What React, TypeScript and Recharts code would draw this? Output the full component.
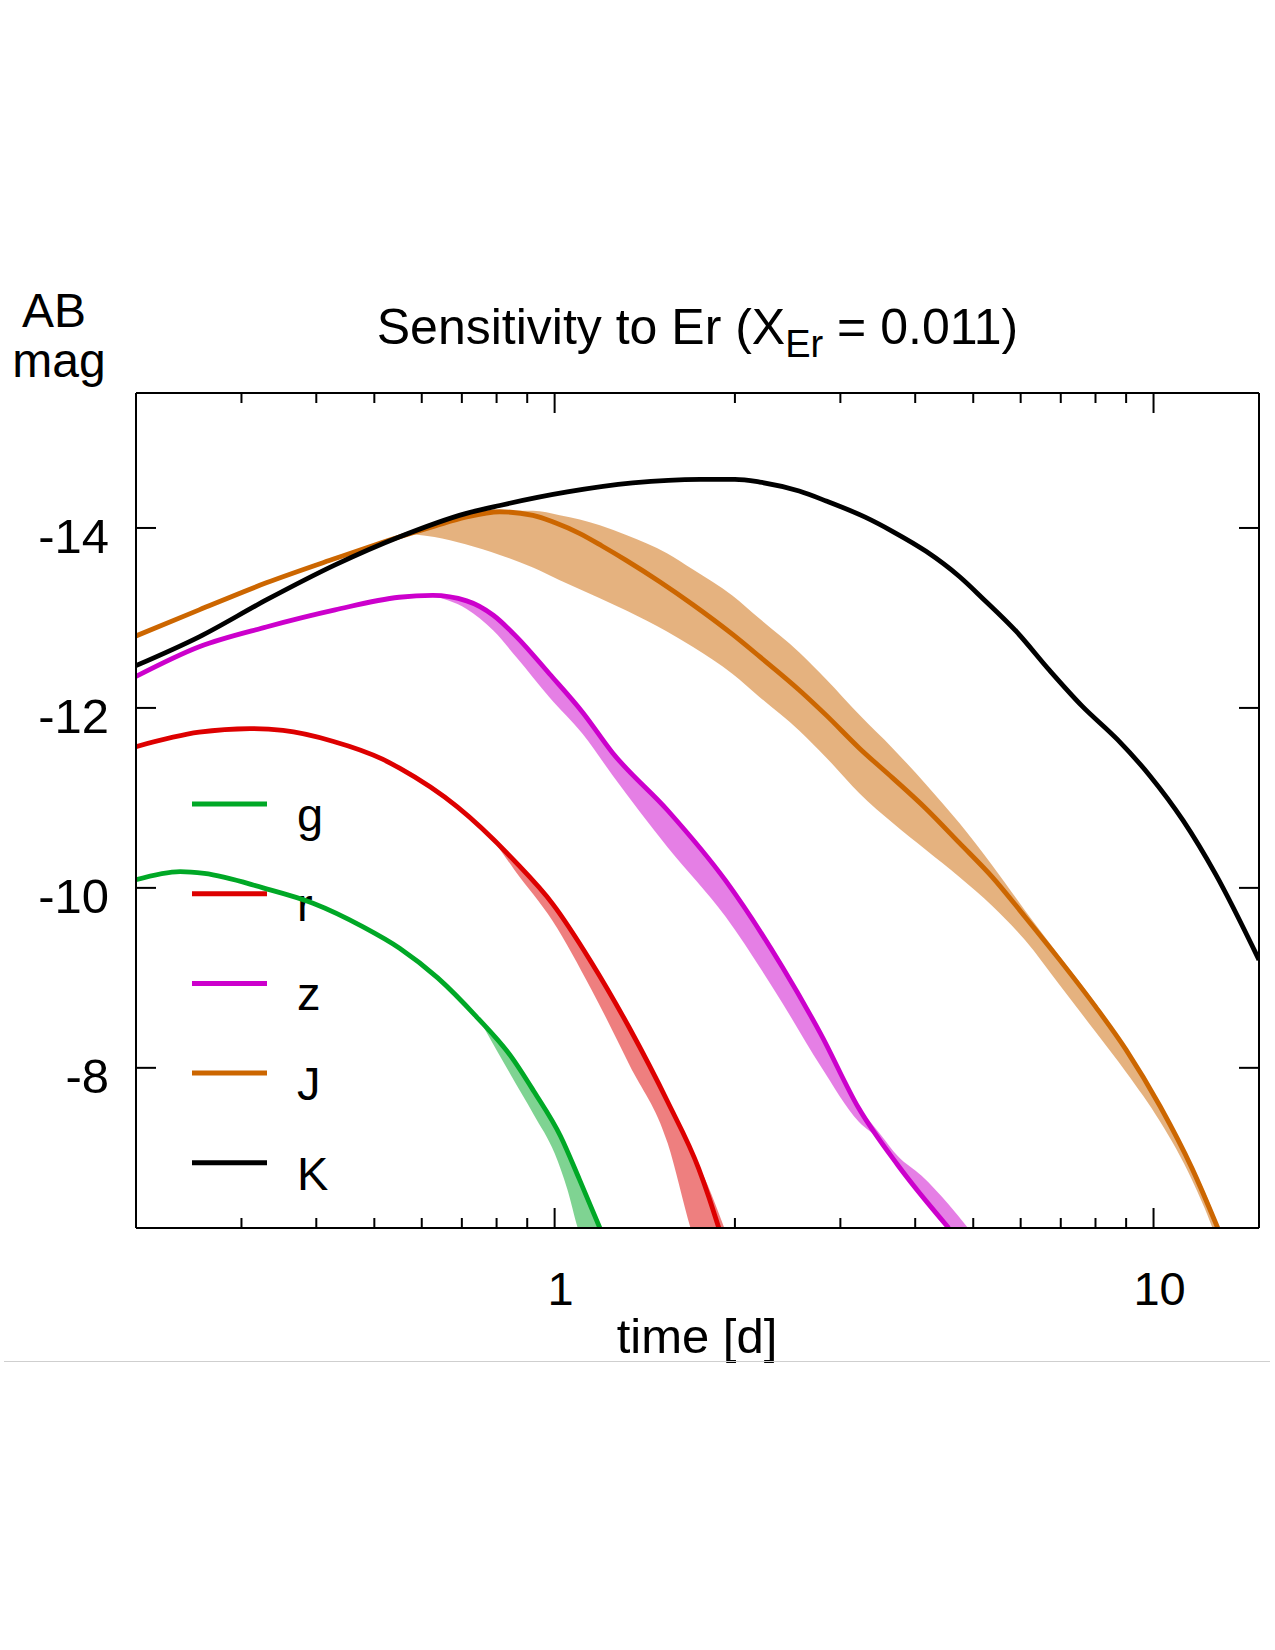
import React from 'react';
import { ComposedChart, Line, Area, XAxis, YAxis } from 'recharts';

const FONT = '"Liberation Sans", Arial, Helvetica, sans-serif';

// ---- categories / labels ----
const BAND_NAMES = ['g', 'r', 'z', 'J', 'K'];
const BAND_COLORS: Record<string, string> = { g: '#00a826', r: '#dd0000', z: '#cc00cc', J: '#cc6600', K: '#000000' };
const X_TICKS = [0.3, 0.4, 0.5, 0.6, 0.7, 0.8, 0.9, 1, 2, 3, 4, 5, 6, 7, 8, 9, 10];
const X_MAJOR = [1, 10];
const Y_TICKS = [-14, -12, -10, -8];
const TITLE_MAIN = 'Sensitivity to Er (X';
const TITLE_SUB = 'Er';
const TITLE_END = ' = 0.011)';
const X_LABEL = 'time [d]';
const Y_LABEL = ['AB', 'mag'];

// ---- series values (time [d], AB mag) ----
const G_T = [0.2, 0.237, 0.26, 0.326, 0.395, 0.478, 0.551, 0.638, 0.74, 0.845, 0.923, 1.023, 1.1, 1.19];
const G_MAG = [-10.09, -10.18, -10.16, -10.0, -9.83, -9.57, -9.33, -9.0, -8.57, -8.13, -7.74, -7.24, -6.76, -6.22];
const G_BAND_T = [0.76, 0.845, 0.923, 1.0, 1.05, 1.093, 1.19];
const G_BAND_BRIGHT = [-8.48, -8.13, -7.74, -7.35, -7.1, -6.82, -6.22];
const G_BAND_DIM = [-8.46, -7.92, -7.48, -7.05, -6.65, -6.22, -5.6];

const R_T = [0.2, 0.255, 0.31, 0.352, 0.426, 0.516, 0.551, 0.688, 0.857, 0.993, 1.15, 1.334, 1.545, 1.74, 1.81, 1.88];
const R_MAG = [-11.57, -11.73, -11.77, -11.75, -11.63, -11.43, -11.33, -10.9, -10.3, -9.82, -9.18, -8.44, -7.62, -6.88, -6.56, -6.22];
const R_BAND_T = [0.8, 0.857, 0.993, 1.15, 1.334, 1.545, 1.686, 1.8, 1.92];
const R_BAND_BRIGHT = [-10.5, -10.3, -9.82, -9.18, -8.44, -7.62, -7.1, -6.7, -6.22];
const R_BAND_DIM = [-10.48, -10.2, -9.63, -8.88, -8.03, -7.16, -6.22, -5.6, -5.0];

const Z_T = [0.2, 0.255, 0.33, 0.43, 0.55, 0.626, 0.713, 0.79, 0.864, 0.98, 1.114, 1.25, 1.545, 1.93, 2.4, 2.78, 3.22, 3.74, 4.55];
const Z_MAG = [-12.35, -12.68, -12.9, -13.09, -13.23, -13.25, -13.19, -13.03, -12.79, -12.38, -11.95, -11.5, -10.86, -10.08, -9.12, -8.38, -7.55, -6.92, -6.22];
const Z_BAND_T = [0.62, 0.713, 0.79, 0.864, 0.98, 1.114, 1.25, 1.545, 1.93, 2.4, 2.78, 3.22, 3.5, 3.74, 4.1, 4.55, 4.9];
const Z_BAND_BRIGHT = [-13.25, -13.19, -13.03, -12.79, -12.38, -11.95, -11.5, -10.86, -10.08, -9.12, -8.38, -7.57, -7.26, -7.02, -6.8, -6.48, -6.22];
const Z_BAND_DIM = [-13.25, -13.1, -12.86, -12.56, -12.12, -11.71, -11.25, -10.45, -9.68, -8.72, -8.02, -7.4, -7.19, -6.92, -6.62, -6.22, -5.95];

const J_T = [0.2, 0.255, 0.33, 0.43, 0.55, 0.63, 0.71, 0.81, 0.92, 1.0, 1.1, 1.2, 1.317, 1.5, 1.7, 1.98, 2.2, 2.56, 2.84, 3.23, 3.67, 4.17, 4.74, 5.38, 6.1, 6.97, 8.0, 9.0, 10.26, 11.6, 12.8];
const J_MAG = [-12.8, -13.09, -13.39, -13.66, -13.9, -14.02, -14.12, -14.18, -14.14, -14.06, -13.94, -13.8, -13.64, -13.4, -13.15, -12.82, -12.57, -12.2, -11.92, -11.55, -11.22, -10.88, -10.5, -10.12, -9.68, -9.2, -8.68, -8.2, -7.57, -6.88, -6.22];
const J_BAND_T = [0.58, 0.63, 0.71, 0.81, 0.92, 1.02, 1.19, 1.32, 1.54, 1.7, 1.98, 2.2, 2.56, 2.84, 3.23, 3.67, 4.17, 4.74, 5.38, 6.1, 6.97, 8.0, 9.0, 10.26, 11.6, 12.8, 13.4];
const J_BAND_BRIGHT = [-13.95, -14.02, -14.12, -14.19, -14.19, -14.14, -14.03, -13.92, -13.72, -13.54, -13.25, -12.99, -12.62, -12.32, -11.92, -11.55, -11.15, -10.72, -10.25, -9.75, -9.24, -8.72, -8.22, -7.6, -6.92, -6.25, -5.8];
const J_BAND_DIM = [-13.93, -13.9, -13.82, -13.7, -13.56, -13.42, -13.22, -13.08, -12.85, -12.68, -12.38, -12.12, -11.75, -11.45, -11.05, -10.72, -10.42, -10.12, -9.8, -9.42, -8.92, -8.4, -7.95, -7.4, -6.75, -6.05, -5.6];

const K_T = [0.2, 0.255, 0.33, 0.43, 0.55, 0.71, 0.81, 1.05, 1.35, 1.75, 2.0, 2.2, 2.56, 2.84, 3.3, 3.67, 4.17, 4.74, 5.18, 5.9, 6.7, 7.6, 8.7, 9.85, 11.2, 12.7, 15];
const K_MAG = [-12.47, -12.79, -13.2, -13.59, -13.9, -14.16, -14.25, -14.4, -14.5, -14.54, -14.54, -14.51, -14.41, -14.3, -14.12, -13.96, -13.74, -13.46, -13.22, -12.85, -12.42, -12.02, -11.65, -11.25, -10.75, -10.15, -9.2];

// ---- builders ----
const toLine = (ts: number[], ms: number[]) => ts.map((t, i) => ({ t, m: ms[i] }));
const toBand = (ts: number[], a: number[], b: number[]) => ts.map((t, i) => ({ t, range: [a[i], b[i]] }));

const LINES: Record<string, { t: number; m: number }[]> = {
  g: toLine(G_T, G_MAG),
  r: toLine(R_T, R_MAG),
  z: toLine(Z_T, Z_MAG),
  J: toLine(J_T, J_MAG),
  K: toLine(K_T, K_MAG),
};
const BANDS: Record<string, { t: number; range: number[] }[]> = {
  g: toBand(G_BAND_T, G_BAND_BRIGHT, G_BAND_DIM),
  r: toBand(R_BAND_T, R_BAND_BRIGHT, R_BAND_DIM),
  z: toBand(Z_BAND_T, Z_BAND_BRIGHT, Z_BAND_DIM),
  J: toBand(J_BAND_T, J_BAND_BRIGHT, J_BAND_DIM),
};

// ---- layout ----
const W = 1275;
const H = 1400;
const PLOT_L = 136;
const PLOT_R = 1259;
const PLOT_T = 393;
const PLOT_B = 1228;
const FS = 47;
const LEFT_W = 60;
const RIGHT_W = 5;
const TOP_H = 5;
const BOTTOM_H = 60;

const XTickBottom = (p: any) => {
  const { x, y, payload } = p;
  const major = X_MAJOR.includes(payload.value);
  return (
    <g>
      <line x1={x} x2={x} y1={y} y2={y - (major ? 20 : 10)} stroke="#000" strokeWidth={2} />
      {major && (
        <text x={x + 6} y={y + 77} textAnchor="middle" fontSize={FS} fontFamily={FONT} fill="#000">
          {String(payload.value)}
        </text>
      )}
    </g>
  );
};
const XTickTop = (p: any) => {
  const { x, y, payload } = p;
  const major = X_MAJOR.includes(payload.value);
  return <line x1={x} x2={x} y1={y} y2={y + (major ? 20 : 10)} stroke="#000" strokeWidth={2} />;
};
const YTickLeft = (p: any) => {
  const { x, y, payload } = p;
  return (
    <g>
      <line x1={x} x2={x + 20} y1={y} y2={y} stroke="#000" strokeWidth={2} />
      <text x={x - 27} y={y + 25} textAnchor="end" fontSize={49} fontFamily={FONT} fill="#000">
        {String(payload.value)}
      </text>
    </g>
  );
};
const YTickRight = (p: any) => {
  const { x, y } = p;
  return <line x1={x} x2={x - 20} y1={y} y2={y} stroke="#000" strokeWidth={2} />;
};

const LEGEND_X1 = 192;
const LEGEND_X2 = 267;
const LEGEND_Y0 = 804;
const LEGEND_DY = 89.7;

export default function App() {
  const axisLine = { stroke: '#000', strokeWidth: 2 };
  return (
    <div style={{ position: 'absolute', left: 0, top: 0, width: 1275, height: 1650, background: '#fff' }}>
      <ComposedChart
        width={W}
        height={H}
        margin={{
          top: PLOT_T - TOP_H,
          left: PLOT_L - LEFT_W,
          right: W - PLOT_R - RIGHT_W,
          bottom: H - PLOT_B - BOTTOM_H,
        }}
      >
        <XAxis
          xAxisId="b"
          type="number"
          dataKey="t"
          scale="log"
          domain={[0.2, 15]}
          allowDataOverflow
          ticks={X_TICKS}
          interval={0}
          height={BOTTOM_H}
          tickSize={0}
          tickMargin={0}
          tickLine={false}
          axisLine={axisLine}
          tick={XTickBottom}
          orientation="bottom"
        />
        <XAxis
          xAxisId="t"
          type="number"
          dataKey="t"
          scale="log"
          domain={[0.2, 15]}
          allowDataOverflow
          ticks={X_TICKS}
          interval={0}
          height={TOP_H}
          tickSize={0}
          tickMargin={0}
          tickLine={false}
          axisLine={axisLine}
          tick={XTickTop}
          orientation="top"
        />
        <YAxis
          yAxisId="l"
          type="number"
          domain={[-15.5, -6.22]}
          reversed
          allowDataOverflow
          ticks={Y_TICKS}
          interval={0}
          width={LEFT_W}
          tickSize={0}
          tickMargin={0}
          tickLine={false}
          axisLine={axisLine}
          tick={YTickLeft}
          orientation="left"
        />
        <YAxis
          yAxisId="r"
          type="number"
          domain={[-15.5, -6.22]}
          reversed
          allowDataOverflow
          ticks={Y_TICKS}
          interval={0}
          width={RIGHT_W}
          tickSize={0}
          tickMargin={0}
          tickLine={false}
          axisLine={axisLine}
          tick={YTickRight}
          orientation="right"
        />
        {['J', 'z', 'r', 'g'].map((b) => (
          <Area
            key={'band-' + b}
            xAxisId="b"
            yAxisId="l"
            data={BANDS[b]}
            dataKey="range"
            type="monotoneX"
            stroke="none"
            fill={BAND_COLORS[b]}
            fillOpacity={0.5}
            isAnimationActive={false}
            legendType="none"
            activeDot={false}
            dot={false}
          />
        ))}
        {['J', 'z', 'r', 'g', 'K'].map((b) => (
          <Line
            key={'line-' + b}
            xAxisId="b"
            yAxisId="l"
            data={LINES[b]}
            dataKey="m"
            type="monotoneX"
            stroke={BAND_COLORS[b]}
            strokeWidth={4.8}
            dot={false}
            activeDot={false}
            isAnimationActive={false}
          />
        ))}
        <g>
          {BAND_NAMES.map((b, i) => {
            const y = LEGEND_Y0 + i * LEGEND_DY;
            return (
              <g key={'leg-' + b}>
                <line x1={LEGEND_X1} x2={LEGEND_X2} y1={y} y2={y} stroke={BAND_COLORS[b]} strokeWidth={5} />
                <text x={297} y={y + 27} fontSize={FS} fontFamily={FONT} fill="#000">
                  {b}
                </text>
              </g>
            );
          })}
          <text x={(PLOT_L + PLOT_R) / 2} y={344} textAnchor="middle" fontSize={50} fontFamily={FONT} fill="#000">
            {TITLE_MAIN}
            <tspan fontSize={38} dy={13}>
              {TITLE_SUB}
            </tspan>
            <tspan dy={-13}>{TITLE_END}</tspan>
          </text>
          <text x={697} y={1353} textAnchor="middle" fontSize={49} fontFamily={FONT} fill="#000">
            {X_LABEL}
          </text>
          <text x={54} y={327} textAnchor="middle" fontSize={48} fontFamily={FONT} fill="#000">
            {Y_LABEL[0]}
          </text>
          <text x={59} y={377} textAnchor="middle" fontSize={48} fontFamily={FONT} fill="#000">
            {Y_LABEL[1]}
          </text>
        </g>
      </ComposedChart>
      <div style={{ position: 'absolute', left: 4, top: 1361, width: 1266, height: 1, background: '#cfcfcf' }} />
    </div>
  );
}
